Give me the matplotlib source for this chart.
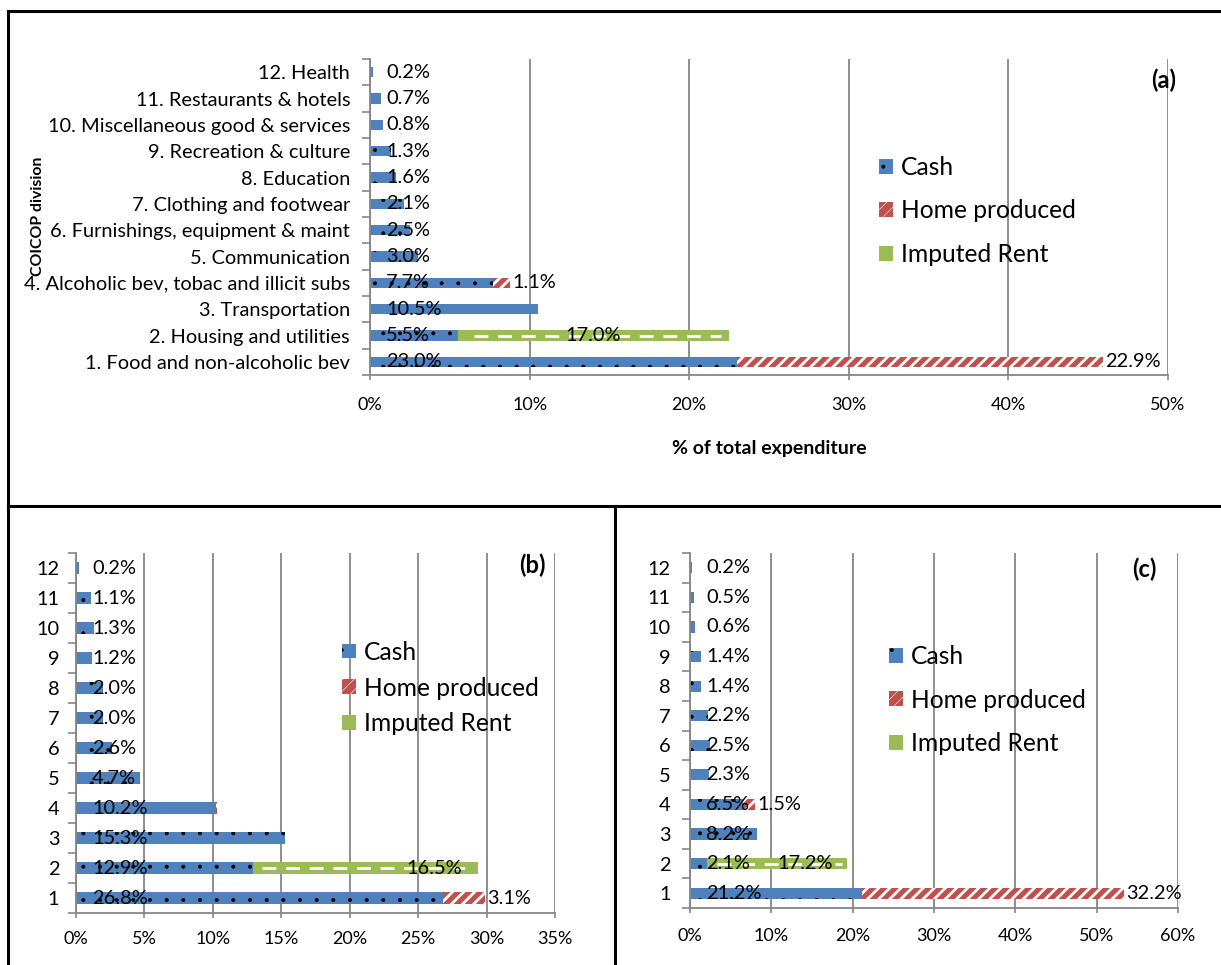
import matplotlib
matplotlib.use('Agg')
import matplotlib.pyplot as plt
from matplotlib.lines import Line2D
from matplotlib.patches import Patch
from matplotlib.ticker import PercentFormatter

plt.rcParams['font.family'] = ['Lato', 'DejaVu Sans']
plt.rcParams['hatch.linewidth'] = 0.4

# categories (bottom to top)
divisions = ['1. Food and non-alcoholic bev', '2. Housing and utilities', '3. Transportation',
             '4. Alcoholic bev, tobac and illicit subs', '5. Communication',
             '6. Furnishings, equipment & maint', '7. Clothing and footwear', '8. Education',
             '9. Recreation & culture', '10. Miscellaneous good & services',
             '11. Restaurants & hotels', '12. Health']
codes = [str(i) for i in range(1, 13)]
series_names = ['Cash', 'Home produced', 'Imputed Rent']

# panel (a)
cash_a = [23.0, 5.5, 10.5, 7.7, 3.0, 2.5, 2.1, 1.6, 1.3, 0.8, 0.7, 0.2]
home_a = [22.9, 0, 0, 1.1, 0, 0, 0, 0, 0, 0, 0, 0]
rent_a = [0, 17.0, 0, 0, 0, 0, 0, 0, 0, 0, 0, 0]
# panel (b)
cash_b = [26.8, 12.9, 15.3, 10.2, 4.7, 2.6, 2.0, 2.0, 1.2, 1.3, 1.1, 0.2]
home_b = [3.1, 0, 0, 0.1, 0, 0, 0, 0, 0, 0, 0, 0]
rent_b = [0, 16.5, 0, 0, 0, 0, 0, 0, 0, 0, 0, 0]
# panel (c)
cash_c = [21.2, 2.1, 8.2, 6.5, 2.3, 2.5, 2.2, 1.4, 1.4, 0.6, 0.5, 0.2]
home_c = [32.2, 0, 0, 1.5, 0, 0, 0, 0, 0, 0, 0, 0]
rent_c = [0, 17.2, 0, 0, 0, 0, 0, 0, 0, 0, 0, 0]

BLUE = '#4F81BD'
RED = '#C0504D'
GREEN = '#9BBB59'
GREY = '#868686'
DOT_LW = 0.4
STRIPE_LW = 2.0

W, H = 1221, 965
fig = plt.figure(figsize=(W / 100, H / 100), dpi=100)


def px_rect(x0, y0, x1, y1):
    return [x0 / W, 1 - y1 / H, (x1 - x0) / W, (y1 - y0) / H]


def hatch_bars(ax, lw, *args, **kw):
    with plt.rc_context({'hatch.linewidth': lw}):
        bars = ax.barh(*args, **kw)
    for p in bars:
        if hasattr(p, 'set_hatch_linewidth'):
            p.set_hatch_linewidth(lw)
    return bars


def panel(ax, labels, cash, home, rent, xmax, step, tag, tag_xy, rent_mode,
          label_pad, xtick_pad, lab_fs, tick_fs):
    y = list(range(len(labels)))
    left_rent = [c + h for c, h in zip(cash, home)]
    hatch_bars(ax, DOT_LW, y, cash, height=0.38, color=BLUE, hatch='.', edgecolor='black',
               linewidth=0, zorder=2)
    hatch_bars(ax, STRIPE_LW, y, home, left=cash, height=0.38, color=RED, hatch='///',
               edgecolor='white', linewidth=0, zorder=2)
    ax.barh(y, rent, left=left_rent, height=0.38, color=GREEN, linewidth=0, zorder=2)
    for i in y:
        if rent[i] > 0:
            ax.plot([left_rent[i] + 0.02 * xmax, left_rent[i] + rent[i] - 0.01 * xmax], [i, i],
                    color='white', lw=2, dashes=(5, 3.5), zorder=3)

    # data labels
    for i in y:
        ax.annotate(f'{cash[i]:.1f}%', xy=(0, i), xytext=(11.5, 0), textcoords='offset points',
                    ha='left', va='center', fontsize=lab_fs, zorder=4)
        if home[i] >= 0.5:
            ax.annotate(f'{home[i]:.1f}%', xy=(cash[i] + home[i], i), xytext=(1.5, 0),
                        textcoords='offset points', ha='left', va='center', fontsize=lab_fs, zorder=4)
        if rent[i] > 0:
            if rent_mode == 'center':
                ax.annotate(f'{rent[i]:.1f}%', xy=(left_rent[i] + rent[i] / 2, i), ha='center',
                            va='center', fontsize=lab_fs, zorder=4)
            elif rent_mode == 'end':
                ax.annotate(f'{rent[i]:.1f}%', xy=(left_rent[i] + rent[i], i), xytext=(-11.5, 0),
                            textcoords='offset points', ha='right', va='center', fontsize=lab_fs, zorder=4)
            else:
                ax.annotate(f'{rent[i]:.1f}%', xy=(left_rent[i] + rent[i] / 2, i), ha='left',
                            va='center', fontsize=lab_fs, zorder=4)

    ax.set_xlim(0, xmax)
    ax.set_ylim(-0.5, len(labels) - 0.5)
    ax.set_xticks([k * step for k in range(int(round(xmax / step)) + 1)])
    ax.xaxis.set_major_formatter(PercentFormatter(decimals=0))
    ax.set_yticks(y)
    ax.set_yticklabels(labels, fontsize=lab_fs)
    ax.set_yticks([k - 0.5 for k in range(len(labels) + 1)], minor=True)
    ax.tick_params(axis='y', which='major', length=0, pad=label_pad)
    ax.tick_params(axis='y', which='minor', length=5.8, color=GREY, width=1.2)
    ax.tick_params(axis='x', length=3.6, color=GREY, width=1.2, labelsize=tick_fs, pad=xtick_pad)
    ax.grid(axis='x', color=GREY, lw=1.3)
    ax.set_axisbelow(True)
    for s in ['top', 'right']:
        ax.spines[s].set_visible(False)
    for s in ['left', 'bottom']:
        ax.spines[s].set_color(GREY)
        ax.spines[s].set_linewidth(1.3)
    ax.text(tag_xy[0], tag_xy[1], tag, transform=ax.transAxes, ha='center', va='center',
            fontsize=17, fontweight='bold')


def add_legend(ax, x, y, spacing):
    with plt.rc_context({'hatch.linewidth': DOT_LW}):
        h_cash = Patch(facecolor=BLUE, hatch='.', edgecolor='black', linewidth=0)
    with plt.rc_context({'hatch.linewidth': STRIPE_LW}):
        h_home = Patch(facecolor=RED, hatch='///', edgecolor='white', linewidth=0)
    if hasattr(h_cash, 'set_hatch_linewidth'):
        h_cash.set_hatch_linewidth(DOT_LW)
        h_home.set_hatch_linewidth(STRIPE_LW)
    handles = [h_cash, h_home, Patch(facecolor=GREEN, linewidth=0)]
    fig.legend(handles, series_names, loc='center left', bbox_to_anchor=(x / W, 1 - y / H),
               frameon=False, fontsize=17.7, handlelength=0.55, handleheight=0.55,
               handletextpad=0.35, labelspacing=spacing, borderpad=0, borderaxespad=0)


ax_a = fig.add_axes(px_rect(370, 59, 1168, 375))
panel(ax_a, divisions, cash_a, home_a, rent_a, 50, 10, '(a)', (0.994, 0.934), 'center',
      14.4, 12, 14.4, 13)
ax_a.set_xlabel('% of total expenditure', fontsize=14, fontweight='bold', labelpad=20)
fig.text(38 / W, 1 - 216 / H, 'COICOP division', rotation=90, ha='center', va='center',
         fontsize=11.4, fontweight='bold')
add_legend(ax_a, 879, 211, 0.84)

ax_b = fig.add_axes(px_rect(76, 553, 555, 913))
panel(ax_b, codes, cash_b, home_b, rent_b, 35, 5, '(b)', (0.952, 0.967), 'end',
      12, 9, 14.4, 13)
add_legend(ax_b, 342, 688, 0.52)

ax_c = fig.add_axes(px_rect(690, 553, 1178, 908))
panel(ax_c, codes, cash_c, home_c, rent_c, 60, 10, '(c)', (0.930, 0.953), 'left',
      14, 11, 14.4, 13)
add_legend(ax_c, 889, 700, 0.84)

# frame lines of the figure layout
for (x0, y0, x1, y1) in [(8, 11, 8, 965), (8, 11, 1221, 11), (8, 506, 1221, 506), (615, 506, 615, 965)]:
    fig.add_artist(Line2D([x0 / W, x1 / W], [1 - y0 / H, 1 - y1 / H], color='black', lw=2.2,
                          transform=fig.transFigure))

# caption line above the figure, cut off at the top edge as in the source
for txt, xc in [('(a),', 296), ('(b)', 420), ('(c)', 585)]:
    fig.text(xc / W, 1.003, txt, ha='center', va='baseline', fontsize=14, fontweight='bold')

fig.savefig('out.png', dpi=100)
